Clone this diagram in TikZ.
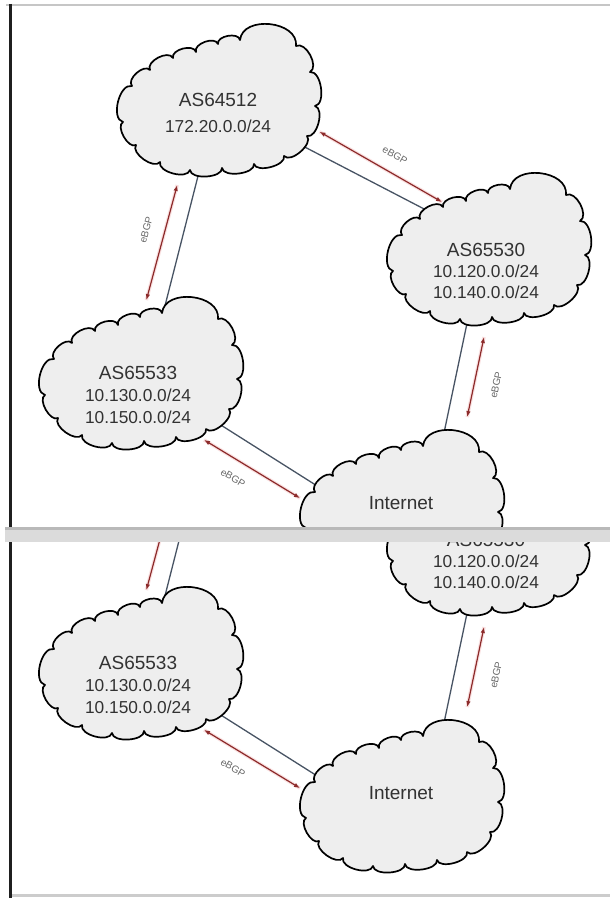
\documentclass[tikz,border=0pt]{standalone}
\usepackage{fontspec}
\setmainfont{Liberation Sans}
\usetikzlibrary{shapes.geometric,arrows.meta}

\definecolor{linkblue}{RGB}{72,84,100}
\definecolor{bgpred}{RGB}{140,42,42}
\definecolor{bgphalo}{RGB}{250,225,225}
\definecolor{txtgray}{RGB}{50,50,50}
\definecolor{lblgray}{RGB}{105,105,105}
\definecolor{cloudfill}{RGB}{238,238,238}

\tikzset{
  hub/.style={ellipse, minimum width=150pt, minimum height=96pt, inner sep=0pt, outer sep=0pt},
  link/.style={draw=linkblue, line width=1.3pt},
  ebgp/.style={draw=bgpred, line width=1.2pt,
    {Latex[length=6pt,width=4.5pt]}-{Latex[length=6pt,width=4.5pt]},
    preaction={draw=bgphalo, line width=3.5pt, -}},
  cloudbody/.style={draw=black, line width=1.7pt, fill=cloudfill, line join=round},
  asname/.style={font=\fontsize{19}{21}\selectfont, text=txtgray, inner sep=0pt},
  netpfx/.style={font=\fontsize{17.3}{20}\selectfont, text=txtgray, inner sep=0pt},
  bgplabel/.style={font=\fontsize{10}{12}\selectfont, text=lblgray, inner sep=0pt},
  pb/.style={bend left=90, looseness=#1},
  pb/.default=1,
}

% bumpy cloud outline around the centre of a hub node
\newcommand{\drawcloud}[1]{%
  \draw[cloudbody, shift={(#1.center)}]
    (-95,-22) to[pb=0.9] (-86,14)
    to[pb=0.95] (-68,30)
    to[pb=0.95] (-45,42)
    to[pb=0.95] (-22,48)
    to[pb=0.95] (0,56)
    to[pb=0.95] (22,60)
    to[pb=1.15] (78,54)
    to[pb=0.95] (92,28)
    to[pb=0.85] (97,-6)
    to[pb=0.85] (89,-36)
    to[pb=0.85] (66,-56)
    to[pb=0.8] (36,-64)
    to[pb=0.8] (4,-68)
    to[pb=0.8] (-28,-70)
    to[pb=0.85] (-58,-62)
    to[pb=0.85] (-82,-45)
    to[pb=0.85] (-95,-22) -- cycle;}

% the upper part (AS64512 captions and its session labels) is only set
% where it can be seen
\newif\ifupperpart

% the four autonomous systems, their links and eBGP sessions
\newcommand{\netdiagram}{%
  \node[hub] (c1) at (218,-100) {};
  \node[hub] (c2) at (488,-249) {};
  \node[hub] (c3) at (140,-373) {};
  \node[hub] (c4) at (401,-506) {};
  % physical links, their inner ends are hidden by the clouds
  \draw[link] (c1.-29) -- (c2.147);
  \draw[link] (c1.-105) -- (c3.67);
  \draw[link] (c2.-108) -- (c4.49);
  \draw[link] (c3.-33) -- (c4.170);
  \drawcloud{c1}\drawcloud{c2}\drawcloud{c3}\drawcloud{c4}
  % cloud captions
  \ifupperpart
    \node[asname] (t1a) at (218,-100) {AS64512};
    \node[netpfx] (t1b) at (218,-126) {172.20.0.0/24};
  \fi
  \node[asname] (t2a) at (486,-250) {AS65530};
  \node[netpfx] (t2b) at (486,-271) {10.120.0.0/24};
  \node[netpfx] (t2c) at (486,-292) {10.140.0.0/24};
  \node[asname] (t3a) at (138,-373) {AS65533};
  \node[netpfx] (t3b) at (138,-395) {10.130.0.0/24};
  \node[netpfx] (t3c) at (138,-417) {10.150.0.0/24};
  \node[asname] (t4a) at (401,-503) {Internet};
  % eBGP sessions
  \draw[ebgp] ([shift={(44.8,-0.3)}]c1.-29) -- ([shift={(6.7,12.8)}]c2.147);
  \draw[ebgp] ([shift={(-28.1,-37.7)}]c1.-105) -- ([shift={(-13.3,26.6)}]c3.67);
  \draw[ebgp] ([shift={(11.3,-41)}]c2.-108) -- ([shift={(29.75,47)}]c4.49);
  \draw[ebgp] ([shift={(11.4,-32.7)}]c3.-33) -- ([shift={(-28.7,-4.9)}]c4.170);
  \ifupperpart
    \node[bgplabel, rotate=-30] (l1) at (395,-155) {eBGP};
    \node[bgplabel, rotate=75]  (l2) at (146,-230) {eBGP};
  \fi
  \node[bgplabel, rotate=78]  (l3) at (496,-385) {eBGP};
  \node[bgplabel, rotate=-31] (l4) at (233,-478) {eBGP};
}

\begin{document}
\begin{tikzpicture}[x=1pt,y=1pt]
  \useasboundingbox (0,0) rectangle (610,-899);
  \fill[white] (0,0) rectangle (610,-899);

  % upper view
  \begin{scope}[name prefix=top-]
    \upperparttrue
    \clip (0,-5) rectangle (610,-527);
    \netdiagram
  \end{scope}

  % lower view, scrolled further down
  \begin{scope}[name prefix=bot-]
    \upperpartfalse
    \clip (0,-542) rectangle (610,-895);
    \begin{scope}[shift={(0,-290)}]
      \netdiagram
    \end{scope}
  \end{scope}

  % window frame
  \draw[gray!45, line width=2pt] (6,-5) -- (610,-5);
  \fill[gray!28] (5,-527) rectangle (610,-542);
  \fill[gray!55] (5,-527) rectangle (610,-529.5);
  \draw[gray!40, line width=3pt] (12,-895.5) -- (610,-895.5);
  \draw[black!88, line width=3pt] (10.5,-4) -- (10.5,-527);
  \draw[black!88, line width=3pt] (10.5,-542) -- (10.5,-898);
\end{tikzpicture}
\end{document}
